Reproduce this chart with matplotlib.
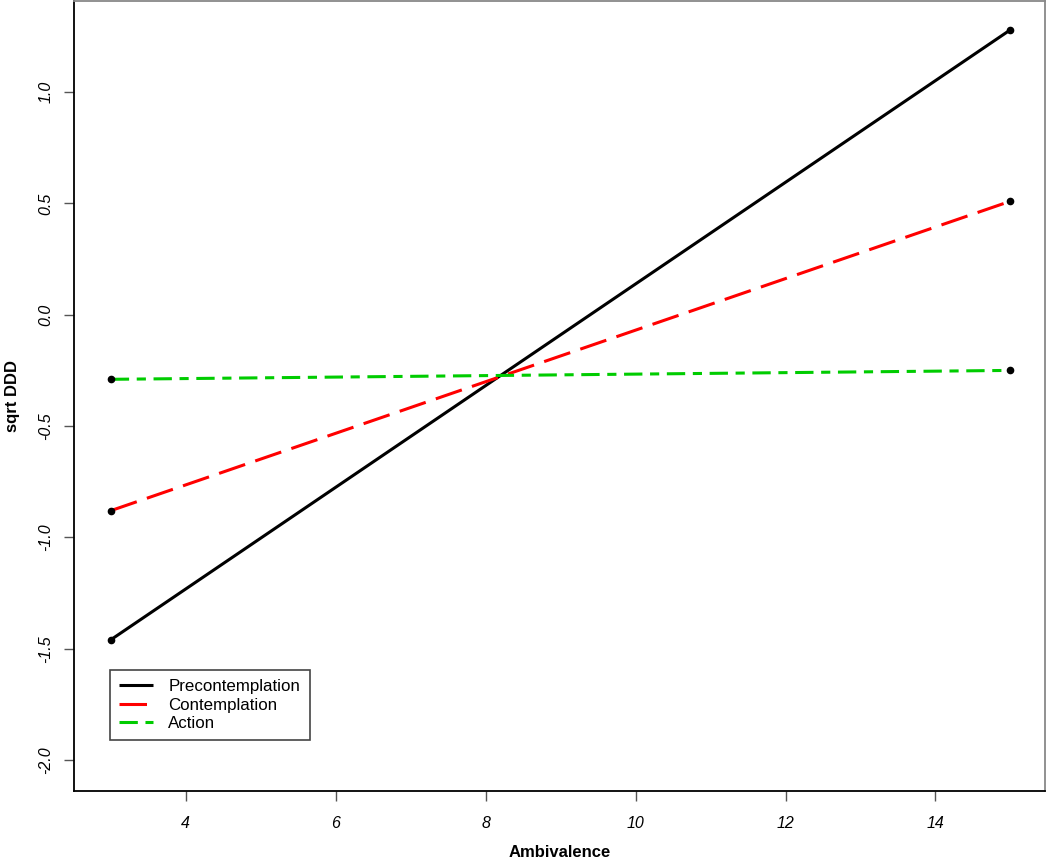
import matplotlib
matplotlib.use("Agg")
import matplotlib.pyplot as plt

plt.rcParams['font.family'] = ['Liberation Sans', 'DejaVu Sans']

x_vals = [3, 15]
precontemplation = [-1.46, 1.28]
contemplation = [-0.88, 0.51]
action = [-0.29, -0.25]
series_names = ["Precontemplation", "Contemplation", "Action"]
x_ticks = [4, 6, 8, 10, 12, 14]
y_ticks = [-2.0, -1.5, -1.0, -0.5, 0.0, 0.5, 1.0]

fig = plt.figure(figsize=(10.5, 8.58), dpi=100)
ax = fig.add_axes([0.0705, 0.0781, 0.9247, 0.9207])

lp, = ax.plot(x_vals, precontemplation, color='black', lw=2.2, solid_capstyle='butt')
lc, = ax.plot(x_vals, contemplation, color='#ff0000', lw=2.2, dashes=(9, 3.5))
la, = ax.plot(x_vals, action, color='#00cc00', lw=2.2, dashes=(6, 2.5, 3, 2.5))
for s in (precontemplation, contemplation, action):
    ax.plot(x_vals, s, 'o', color='black', ms=4.5, zorder=5)

ax.set_xlim(2.51, 15.46)
ax.set_ylim(-2.139, 1.409)
ax.set_xticks(x_ticks)
ax.set_xticklabels([str(v) for v in x_ticks], fontstyle='italic', fontsize=11.5)
ax.set_yticks(y_ticks)
ax.set_yticklabels([f"{v:.1f}" for v in y_ticks], fontstyle='italic', fontsize=11.5,
                   rotation=90, va='center')
ax.tick_params(axis='both', length=7, width=1, color='#555555')
ax.tick_params(axis='x', pad=11)
ax.tick_params(axis='y', pad=8)

for side in ['left', 'bottom']:
    ax.spines[side].set_color('black')
    ax.spines[side].set_linewidth(1.3)
for side in ['top', 'right']:
    ax.spines[side].set_color('#888888')
    ax.spines[side].set_linewidth(1.3)

ax.set_xlabel("Ambivalence", fontweight='bold', fontsize=12, labelpad=10)
ax.set_ylabel("sqrt DDD", fontweight='bold', fontsize=12, labelpad=13)

leg = ax.legend([lp, lc, la], series_names, loc='upper left',
                bbox_to_anchor=(110/1050, (858-670)/858), bbox_transform=fig.transFigure,
                borderaxespad=0,
                fontsize=12.2, fancybox=False, framealpha=1, edgecolor='#444444',
                handlelength=2.0, handletextpad=0.9, borderpad=0.55, labelspacing=0.2)
leg.get_frame().set_linewidth(1.2)

fig.savefig("out.png", dpi=100)
